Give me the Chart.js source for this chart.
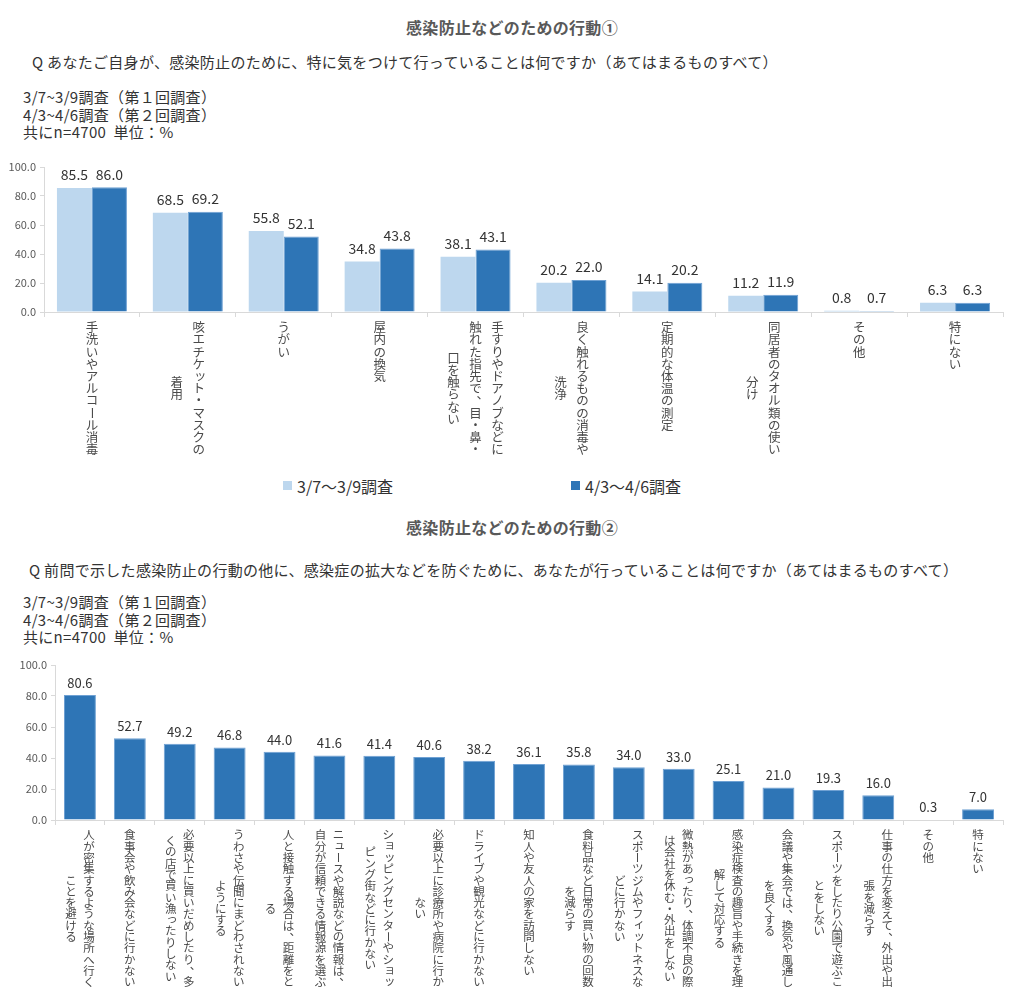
<!DOCTYPE html>
<html><head><meta charset="utf-8">
<script src="https://cdn.jsdelivr.net/npm/chart.js@4"></script>
<style>
body{margin:0;background:#fff;width:1024px;height:1008px;position:relative;overflow:hidden;font-family:'Noto Sans CJK JP',sans-serif;color:#333}
.t{position:absolute;white-space:pre}
.title{left:0;width:1024px;text-align:center;font-weight:bold;font-size:16px;line-height:18px;color:#595959;letter-spacing:0.3px}
.q{font-size:15px;line-height:18px;letter-spacing:0.3px}
.info{font-size:15px;line-height:17.5px;letter-spacing:0.3px}
canvas{position:absolute;left:0}
.sw{position:absolute;width:9px;height:9px}
.lg{position:absolute;font-size:16px;line-height:20px;white-space:nowrap}
</style></head>
<body>
<div class="t title" style="top:18px">感染防止などのための行動①</div>
<div class="t q" style="left:32px;top:53px">Q あなたご自身が、感染防止のために、特に気をつけて行っていることは何ですか（あてはまるものすべて）</div>
<div class="t info" style="left:23px;top:88px">3/7~3/9調査（第１回調査）
4/3~4/6調査（第２回調査）
共にn=4700  単位：%</div>
<canvas id="c1" width="1024" height="320" style="top:150px"></canvas>
<div class="sw" style="left:283px;top:481px;background:#BDD7EE"></div>
<div class="lg" style="left:297px;top:476px">3/7～3/9調査</div>
<div class="sw" style="left:571px;top:481px;background:#2E75B6"></div>
<div class="lg" style="left:585px;top:476px">4/3～4/6調査</div>

<div class="t title" style="top:518px">感染防止などのための行動②</div>
<div class="t q" style="left:29px;top:561px">Q 前問で示した感染防止の行動の他に、感染症の拡大などを防ぐために、あなたが行っていることは何ですか（あてはまるものすべて）</div>
<div class="t info" style="left:23px;top:593px">3/7~3/9調査（第１回調査）
4/3~4/6調査（第２回調査）
共にn=4700  単位：%</div>
<canvas id="c2" width="1024" height="358" style="top:650px"></canvas>

<script>
// ---- data ----
const cats1 = [
  ["手洗いやアルコール消毒"],
  ["咳エチケット・マスクの","着用"],
  ["うがい"],
  ["屋内の換気"],
  ["手すりやドアノブなどに","触れた指先で、目・鼻・","口を触らない"],
  ["良く触れるものの消毒や","洗浄"],
  ["定期的な体温の測定"],
  ["同居者のタオル類の使い","分け"],
  ["その他"],
  ["特にない"]
];
const series1Name = "3/7～3/9調査";
const series2Name = "4/3～4/6調査";
const series1 = [85.5, 68.5, 55.8, 34.8, 38.1, 20.2, 14.1, 11.2, 0.8, 6.3];
const series2 = [86.0, 69.2, 52.1, 43.8, 43.1, 22.0, 20.2, 11.9, 0.7, 6.3];

const cats2 = [
  ["人が密集するような場所へ行く","ことを避ける"],
  ["食事会や飲み会などに行かない"],
  ["必要以上に買いだめしたり、多","くの店で買い漁ったりしない"],
  ["うわさや伝聞にまどわされない","ようにする"],
  ["人と接触する場合は、距離をと","る"],
  ["ニュースや解説などの情報は、","自分が信頼できる情報源を選ぶ"],
  ["ショッピングセンターやショッ","ピング街などに行かない"],
  ["必要以上に診療所や病院に行か","ない"],
  ["ドライブや観光などに行かない"],
  ["知人や友人の家を訪問しない"],
  ["食料品など日常の買い物の回数","を減らす"],
  ["スポーツジムやフィットネスな","どに行かない"],
  ["微熱があったり、体調不良の際","は会社を休む・外出をしない"],
  ["感染症検査の趣旨や手続きを理","解して対応する"],
  ["会議や集会では、換気や風通し","を良くする"],
  ["スポーツをしたり公園で遊ぶこ","とをしない"],
  ["仕事の仕方を変えて、外出や出","張を減らす"],
  ["その他"],
  ["特にない"]
];
const series3 = [80.6, 52.7, 49.2, 46.8, 44.0, 41.6, 41.4, 40.6, 38.2, 36.1, 35.8, 34.0, 33.0, 25.1, 21.0, 19.3, 16.0, 0.3, 7.0];

const FONT = "'Noto Sans CJK JP', sans-serif";

function drawVChar(ctx, ch, x, y, fs){
  if ('ー―～〜'.includes(ch)) {
    ctx.save(); ctx.translate(x, y); ctx.rotate(Math.PI/2); ctx.fillText(ch, 0, 0); ctx.restore();
  } else if ('、。'.includes(ch)) {
    ctx.fillText(ch, x + 0.58*fs, y - 0.55*fs);
  } else if ('ッョャュィェォァっょゃゅ'.includes(ch)) {
    ctx.fillText(ch, x + 0.12*fs, y - 0.12*fs);
  } else {
    ctx.fillText(ch, x, y);
  }
}

const vertLabels = {
  id: 'vertLabels',
  afterDraw(chart, args, o) {
    const sc = chart.scales.x, ctx = chart.ctx;
    ctx.save();
    ctx.font = o.size + 'px ' + FONT;
    ctx.fillStyle = '#4a4a4a';
    ctx.textAlign = 'center'; ctx.textBaseline = 'middle';
    o.cats.forEach((cols, i) => {
      const cx = sc.getPixelForTick(i);
      const maxLen = Math.max(...cols.map(c => [...c].length));
      cols.forEach((col, j) => {
        const x = cx + ((cols.length - 1) / 2 - j) * o.colPitch;
        const chars = [...col];
        const off = (maxLen - chars.length) / 2;
        chars.forEach((ch, k) => {
          drawVChar(ctx, ch, x, sc.top + o.first + (k + off) * o.pitch, o.size);
        });
      });
    });
    ctx.restore();
  }
};

const valLabels = {
  id: 'valLabels',
  afterDatasetsDraw(chart, args, o) {
    const ctx = chart.ctx;
    ctx.save();
    ctx.font = o.size + 'px ' + FONT;
    ctx.fillStyle = '#333333';
    ctx.textAlign = 'center'; ctx.textBaseline = 'middle';
    chart.data.datasets.forEach((ds, di) => {
      chart.getDatasetMeta(di).data.forEach((bar, i) => {
        ctx.fillText(ds.data[i].toFixed(1), bar.x, bar.y - o.dy);
      });
    });
    ctx.restore();
  }
};

function makeChart(id, cats, datasets, cfg) {
  return new Chart(document.getElementById(id), {
    type: 'bar',
    data: { labels: cats.map(c => c.join('')), datasets },
    plugins: [vertLabels, valLabels],
    options: {
      responsive: false,
      animation: false,
      layout: { padding: { left: 0, right: 21, top: cfg.top, bottom: 0 } },
      categoryPercentage: cfg.cat,
      barPercentage: 1.0,
      plugins: {
        legend: { display: false },
        tooltip: { enabled: false },
        vertLabels: { cats, size: cfg.lsize, pitch: cfg.pitch, colPitch: cfg.colPitch, first: cfg.first },
        valLabels: { size: cfg.vsize, dy: cfg.dy }
      },
      scales: {
        x: {
          grid: { offset: true, drawOnChartArea: false, tickLength: 5, color: '#D9D9D9' },
          border: { color: '#D9D9D9' },
          ticks: { display: false },
          afterFit(s) { s.height = cfg.xh; }
        },
        y: {
          min: 0, max: 100,
          ticks: { stepSize: 20, callback: v => Number(v).toFixed(1), font: { size: 11, family: FONT }, color: '#595959', padding: 4 },
          grid: { drawOnChartArea: false, tickLength: 4, color: '#D9D9D9' },
          border: { color: '#D9D9D9' },
          afterFit(s) { s.width = cfg.yw; }
        }
      }
    }
  });
}

makeChart('c1', cats1, [
  { label: series1Name, data: series1, backgroundColor: '#BDD7EE', borderColor: '#BDD7EE', borderWidth: 0 },
  { label: series2Name, data: series2, backgroundColor: '#2E75B6', borderColor: '#6FA1D3', borderWidth: 1 }
], { top: 17, xh: 158, yw: 44, cat: 0.73, lsize: 12.5, pitch: 12.2, colPitch: 22, first: 15.5, vsize: 14, dy: 13 });

makeChart('c2', cats2, [
  { label: series2Name, data: series3, backgroundColor: '#2E75B6', borderColor: '#6FA1D3', borderWidth: 1 }
], { top: 15, xh: 188, yw: 55, cat: 0.64, lsize: 11.5, pitch: 11.3, colPitch: 18, first: 15, vsize: 13, dy: 12 });
</script>
</body></html>
